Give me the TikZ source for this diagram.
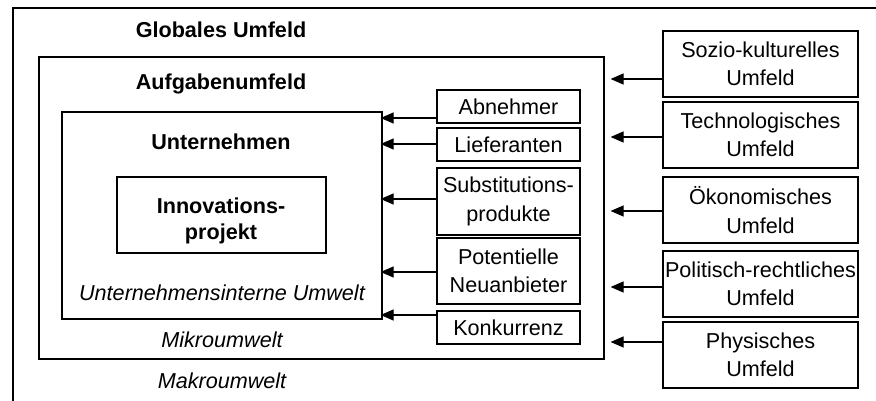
\documentclass[tikz,border=0pt]{standalone}
\usepackage{fontspec}
\setmainfont{Liberation Sans}
\usetikzlibrary{arrows.meta}
\begin{document}
\begin{tikzpicture}[x=1pt,y=-1pt,
  txt/.style={font=\fontsize{21.6}{28.5}\selectfont, align=center, inner sep=0pt},
  frame/.style={draw, line width=1.2pt, inner sep=0pt},
  force/.style={frame, txt, minimum width=143pt},
  env/.style={frame, txt, minimum width=195pt, minimum height=66pt},
  arr/.style={line width=1.2pt, -{Triangle[length=13pt,width=11pt]}},
  title/.style={txt, font=\fontsize{21.6}{26}\selectfont\bfseries, anchor=base},
  caption/.style={txt, font=\fontsize{21.6}{26}\selectfont\itshape, anchor=base}]
\useasboundingbox (0,0) rectangle (876,401);

% global environment (open to the right and bottom)
\draw[line width=1.2pt] (13,401) -- (13,8) -- (876,8);

% nested environments
\node[frame, minimum width=565pt, minimum height=302pt] (aufg) at (321.5,208) {};
\node[frame, minimum width=320pt, minimum height=207pt] (unt) at (222,215.5) {};
\node[frame, minimum width=209pt, minimum height=76pt] (inno) at (221.5,215) {};

\node[title] (tglob) at (221,38) {Globales Umfeld};
\node[title] (taufg) at (221,90) {Aufgabenumfeld};
\node[title] (tunt) at (221,150) {Unternehmen};
\node[title] (tinno) at (221,239) {Innovations-\\projekt};
\node[caption] (tint) at (222,300) {Unternehmensinterne Umwelt};
\node[caption] (tmik) at (222,347) {Mikroumwelt};
\node[caption] (tmak) at (222,388) {Makroumwelt};

% competitive forces
\node[force, minimum height=33pt] (abn) at (508.5,106.5) {Abnehmer};
\node[force, minimum height=33pt] (lief) at (508.5,144.5) {Lieferanten};
\node[force, minimum height=67pt] (subst) at (508.5,201.5) {Substitutions-\\produkte};
\node[force, minimum height=66pt] (pot) at (508.5,271) {Potentielle\\Neuanbieter};
\node[force, minimum height=33pt, text depth=-4pt] (konk) at (508.5,327.5) {Konkurrenz};

% global environment segments
\node[env] (soz) at (760.5,64) {Sozio-kulturelles\\Umfeld};
\node[env] (tech) at (760.5,135) {Technologisches\\Umfeld};
\node[env] (oek) at (760.5,210) {Ökonomisches\\Umfeld};
\node[env] (pol) at (760.5,284) {Politisch-rechtliches\\Umfeld};
\node[env] (phys) at (760.5,355) {Physisches\\Umfeld};

% influences on the company
\draw[arr, shorten >=-2pt] (abn.west |- 0,118) -- (unt.east |- 0,118);
\draw[arr, shorten >=-2pt] (lief.west |- 0,144) -- (unt.east |- 0,144);
\draw[arr, shorten >=-2pt] (subst.west |- 0,199) -- (unt.east |- 0,199);
\draw[arr, shorten >=-2pt] (pot.west |- 0,272) -- (unt.east |- 0,272);
\draw[arr, shorten >=-2pt] (konk.west |- 0,315) -- (unt.east |- 0,315);

% influences on the task environment
\draw[arr, shorten >=6pt] (soz.west |- 0,79) -- (aufg.east |- 0,79);
\draw[arr, shorten >=6pt] (tech.west |- 0,137) -- (aufg.east |- 0,137);
\draw[arr, shorten >=6pt] (oek.west |- 0,211) -- (aufg.east |- 0,211);
\draw[arr, shorten >=6pt] (pol.west |- 0,287) -- (aufg.east |- 0,287);
\draw[arr, shorten >=6pt] (phys.west |- 0,342) -- (aufg.east |- 0,342);
\end{tikzpicture}
\end{document}
